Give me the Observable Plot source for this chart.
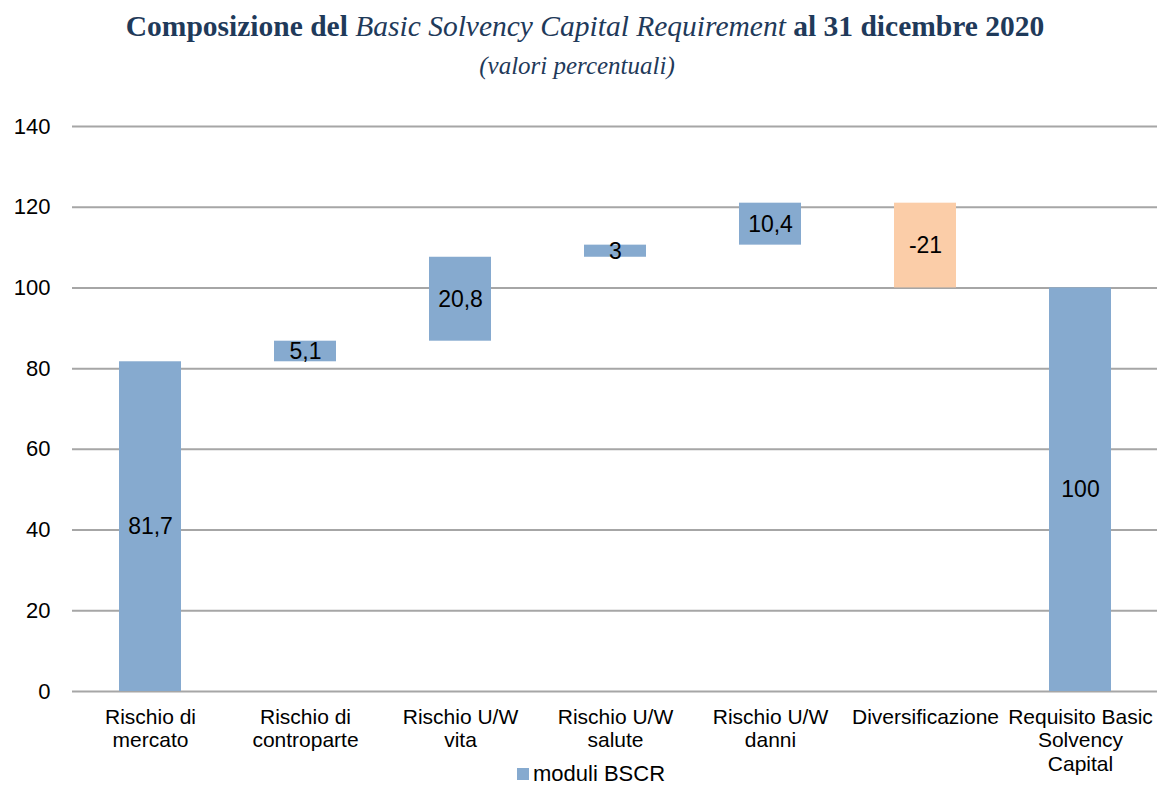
<!DOCTYPE html>
<html><head><meta charset="utf-8">
<script src="https://cdn.jsdelivr.net/npm/d3@7"></script>
<script src="https://cdn.jsdelivr.net/npm/@observablehq/plot@0.6"></script>
<style>
body{margin:0;background:#fff;}
#wrap{position:relative;width:1157px;height:785px;overflow:hidden;}
#chart{position:absolute;left:0;top:0;}
#title{position:absolute;left:0;width:1170px;top:9px;text-align:center;font-family:"Liberation Serif",serif;font-weight:bold;font-size:29.5px;line-height:34px;color:#1f3a5a;white-space:nowrap;}
#title i{font-weight:normal;}
#subtitle{position:absolute;left:0;width:1154px;top:51px;text-align:center;font-family:"Liberation Serif",serif;font-style:italic;font-size:25px;line-height:30px;color:#1f3a5a;}
#legend{position:absolute;left:517px;top:764px;font-family:"Liberation Sans",Arial,sans-serif;font-size:22px;line-height:20px;color:#000;display:flex;align-items:center;}
#legend span.sw{display:inline-block;width:12px;height:12px;background:#86aacf;margin-right:4px;}
</style></head>
<body>
<div id="wrap">
  <div id="chart"></div>
  <div id="title">Composizione del <i>Basic Solvency Capital Requirement</i> al 31 dicembre 2020</div>
  <div id="subtitle">(valori percentuali)</div>
  <div id="legend"><span class="sw"></span>moduli BSCR</div>
</div>
<script>
const categories = ["Rischio di mercato","Rischio di controparte","Rischio U/W vita","Rischio U/W salute","Rischio U/W danni","Diversificazione","Requisito Basic Solvency Capital"];
const tickLabels = ["Rischio di\nmercato","Rischio di\ncontroparte","Rischio U/W\nvita","Rischio U/W\nsalute","Rischio U/W\ndanni","Diversificazione","Requisito Basic\nSolvency\nCapital"];
const values = [81.7, 5.1, 20.8, 3, 10.4, -21, 100];
const kinds = ["step","step","step","step","step","step","total"];
const valueLabels = ["81,7","5,1","20,8","3","10,4","-21","100"];
const yTicks = [0,20,40,60,80,100,120,140];

const BLUE = "#86aacf", ORANGE = "#fbcda8", GRID = "#a6a6a6";

let run = 0;
const rows = categories.map((c, i) => {
  let y1, y2;
  if (kinds[i] === "total") { y1 = 0; y2 = values[i]; }
  else { y1 = run; y2 = run + values[i]; run = y2; }
  return {cat: c, y1, y2, value: values[i], label: valueLabels[i]};
});
const labelOf = new Map(categories.map((c, i) => [c, tickLabels[i]]));

const chart = Plot.plot({
  width: 1157,
  height: 785,
  marginTop: 126,
  marginBottom: 94,
  marginLeft: 72,
  marginRight: 0,
  style: {fontFamily: '"Liberation Sans", Arial, sans-serif', background: "transparent", color: "#000"},
  x: {domain: categories, paddingInner: 0.6, paddingOuter: 0.3},
  y: {domain: [0, 140]},
  marks: [
    Plot.ruleY(yTicks, {stroke: GRID, strokeWidth: 2}),
    Plot.barY(rows, {x: "cat", y1: "y1", y2: "y2", fill: d => d.value < 0 ? ORANGE : BLUE}),
    Plot.text(rows, {x: "cat", y: d => (d.y1 + d.y2) / 2, text: "label", fontSize: 23, fill: "#000"}),
    Plot.axisY({ticks: yTicks, tickSize: 0, tickPadding: 22, fontSize: 22, label: null}),
    Plot.axisX({tickSize: 0, tickPadding: 15, fontSize: 21, lineHeight: 1.14, tickFormat: d => labelOf.get(d), label: null})
  ]
});
document.getElementById("chart").appendChild(chart);
</script>
</body></html>
